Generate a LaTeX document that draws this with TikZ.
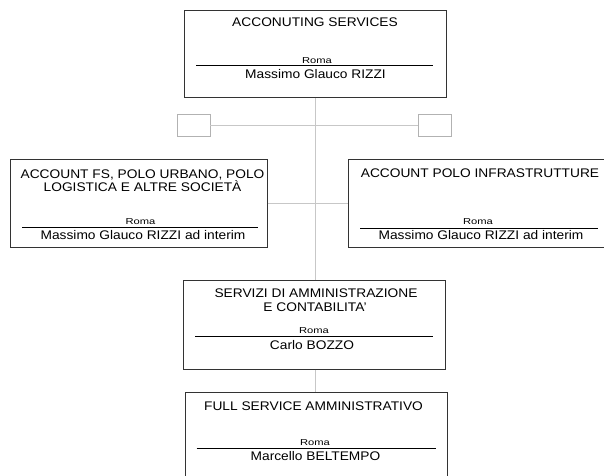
\documentclass[tikz,border=0pt]{standalone}
\usepackage{fontspec}
\setmainfont{Liberation Sans}[FakeStretch=1.1]
\newfontfamily\romaf{Liberation Sans}[FakeStretch=1.3]
\begin{document}
\begin{tikzpicture}[x=1pt,y=-1pt,
  orgbox/.style={draw=black!80,line width=0.9pt,fill=white,inner sep=0pt,minimum width=#1,anchor=north west},
  emptybox/.style={draw=black!30,line width=0.9pt,fill=white,inner sep=0pt,minimum width=33pt,minimum height=22pt},
  conn/.style={draw=black!22,line width=1pt},
  sep/.style={draw=black,line width=0.9pt},
  ttl/.style={inner sep=0pt,anchor=base,font=\fontsize{12.5}{13.5}\selectfont},
  nm/.style={inner sep=0pt,anchor=base,font=\fontsize{12.5}{13.5}\selectfont},
  loc/.style={inner sep=0pt,anchor=base,font=\romaf\fontsize{8.6}{9.5}\selectfont}]
\useasboundingbox (0,0) rectangle (604,475);
\clip (0,0) rectangle (604,475);
\fill[white] (0,0) rectangle (604,475);

% boxes
\node[orgbox=262pt,minimum height=87pt] (top) at (184,10) {};
\node[emptybox] (sl) at (193.5,125) {};
\node[emptybox] (sr) at (435,125) {};
\node[orgbox=257pt,minimum height=88pt] (lb) at (10,159) {};
\node[orgbox=259pt,minimum height=88pt] (rb) at (348,159) {};
\node[orgbox=262pt,minimum height=89pt] (serv) at (183,280) {};
\node[orgbox=262pt,minimum height=90pt] (full) at (185,392) {};

% connectors
\draw[conn] (sl.east) -- (sr.west);
\draw[conn] (lb.east) -- (rb.west);
\draw[conn] (top.south) -- (top.south |- serv.north);
\draw[conn] (serv.south -| top.south) -- (top.south |- full.north);

% top box
\node[ttl] (t1) at (315,26.3) {ACCONUTING SERVICES};
\node[loc] (t2) at (317,63.3) {Roma};
\coordinate (t3a) at (196,65.7); \coordinate (t3b) at (433,65.7);
\draw[sep] (t3a) -- (t3b);
\node[nm] (t4) at (315.5,78.6) {Massimo Glauco RIZZI};

% left box
\node[ttl] (l1) at (142.5,178.4) {ACCOUNT FS, POLO URBANO, POLO};
\node[ttl] (l1b) at (142.5,191.8) {LOGISTICA E ALTRE SOCIETÀ};
\node[loc] (l2) at (140.5,224.3) {Roma};
\coordinate (l3a) at (22,227.7); \coordinate (l3b) at (258,227.7);
\draw[sep] (l3a) -- (l3b);
\node[nm] (l4) at (143,239) {Massimo Glauco RIZZI ad interim};

% right box
\node[ttl] (r1) at (480,177.3) {ACCOUNT POLO INFRASTRUTTURE};
\node[loc] (r2) at (478,224.3) {Roma};
\coordinate (r3a) at (360,228); \coordinate (r3b) at (598,228);
\draw[sep] (r3a) -- (r3b);
\node[nm] (r4) at (481,239.6) {Massimo Glauco RIZZI ad interim};

% servizi box
\node[ttl] (s1) at (316,297.8) {SERVIZI DI AMMINISTRAZIONE};
\node[ttl] (s1b) at (315,311.8) {E CONTABILITA’};
\node[loc] (s2) at (314,333.3) {Roma};
\coordinate (s3a) at (195,336.5); \coordinate (s3b) at (433,336.5);
\draw[sep] (s3a) -- (s3b);
\node[nm] (s4) at (312,349) {Carlo BOZZO};

% full service box
\node[ttl] (f1) at (313.5,410.5) {FULL SERVICE AMMINISTRATIVO};
\node[loc] (f2) at (315,445.8) {Roma};
\coordinate (f3a) at (196.7,448.3); \coordinate (f3b) at (435.7,448.3);
\draw[sep] (f3a) -- (f3b);
\node[nm] (f4) at (315.5,460) {Marcello BELTEMPO};
\end{tikzpicture}
\end{document}
